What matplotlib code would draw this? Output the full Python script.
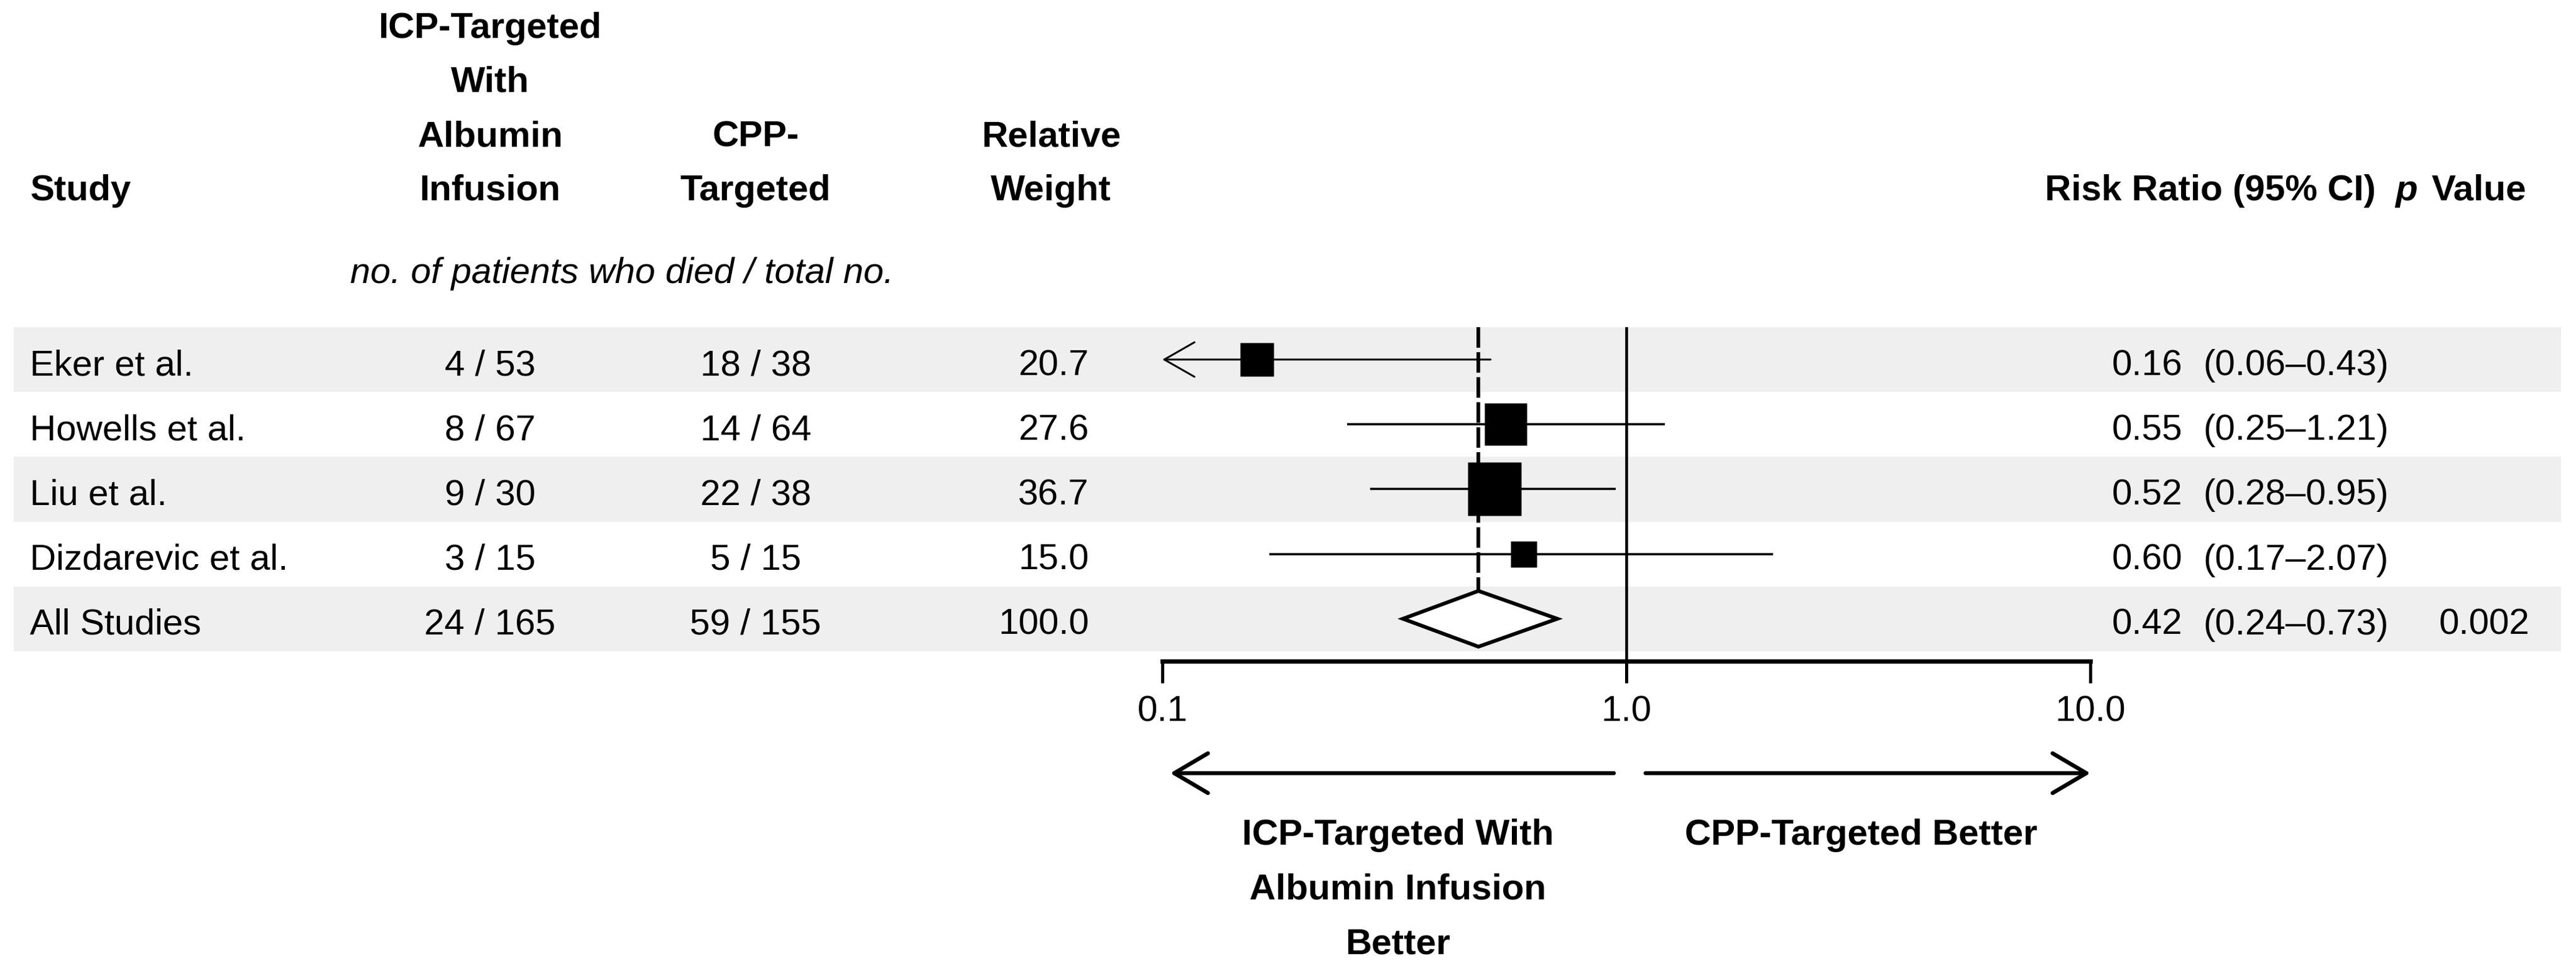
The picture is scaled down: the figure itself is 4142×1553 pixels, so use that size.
import matplotlib
matplotlib.use('Agg')
import matplotlib.pyplot as plt
import matplotlib.transforms as mtransforms
from matplotlib.patches import Polygon

########### Data
studies = ['Eker et al.', 'Howells et al.', 'Liu et al.', 'Dizdarevic et al.', 'All Studies']
icp_died = [4, 8, 9, 3, 24]
icp_total = [53, 67, 30, 15, 165]
cpp_died = [18, 14, 22, 5, 59]
cpp_total = [38, 64, 38, 15, 155]
rel_weight = [20.7, 27.6, 36.7, 15.0, 100.0]
rr_labels = ['0.16', '0.55', '0.52', '0.60', '0.42']
ci_labels = ['(0.06\u20130.43)', '(0.25\u20131.21)', '(0.28\u20130.95)', '(0.17\u20132.07)', '(0.24\u20130.73)']
p_labels = ['', '', '', '', '0.002']
# risk ratios as drawn in the figure (last entry = pooled diamond)
rr_est = [0.16, 0.55, 0.52, 0.60, 0.48]
rr_low = [0.06, 0.25, 0.28, 0.17, 0.33]
rr_high = [0.51, 1.21, 0.95, 2.07, 0.71]
x_ticks = [0.1, 1.0, 10.0]
x_tick_labels = ['0.1', '1.0', '10.0']

########### Settings
W, H = 4142, 1553
FONT = ['Liberation Sans', 'DejaVu Sans']
FS = 42
ROW0 = 578          # pixel centre of first row
ROW_H = 104.2       # pixel height of one row
BAND_LEFT, BAND_RIGHT = 22, 4118
AX_LEFT, AX_RIGHT = 1869, 3361   # pixel x of 0.1 and 10
AX_BOTTOM = 1063                 # pixel y of the axis line
PX = 72.0 / 100                  # pixel -> points

plt.rcParams['font.family'] = FONT

fig = plt.figure(figsize=(W / 100, H / 100), dpi=100)
tab = fig.add_axes([0, 0, 1, 1])
tab.set_xlim(0, W)
tab.set_ylim(H, 0)
tab.axis('off')

def row_y(i):
    return ROW0 + ROW_H * i

# shaded bands on every other row
for i in range(0, len(studies), 2):
    tab.axhspan(row_y(i) - ROW_H / 2, row_y(i) + ROW_H / 2,
                xmin=BAND_LEFT / W, xmax=BAND_RIGHT / W, color='#efefef', lw=0)

# column headers (bold, bottom aligned)
headers = [(48, 'left', ['Study']),
           (788, 'center', ['ICP-Targeted', 'With', 'Albumin', 'Infusion']),
           (1215, 'center', ['CPP-', 'Targeted']),
           (1690, 'center', ['Relative', 'Weight'])]
for x, ha, lines in headers:
    for k, line in enumerate(lines):
        y = 322 - 87 * (len(lines) - 1 - k)
        tab.text(x, y, line, ha=ha, va='baseline', fontsize=FS, fontweight='bold')

tab.text(3820, 322, 'Risk Ratio (95% CI)', ha='right', va='baseline', fontsize=FS, fontweight='bold')
tab.text(3851, 322, 'p', ha='left', va='baseline', fontsize=FS, fontweight='bold', style='italic')
tab.text(3910, 322, 'Value', ha='left', va='baseline', fontsize=FS, fontweight='bold')
tab.text(1000, 455, 'no. of patients who died / total no.', ha='center', va='baseline',
         fontsize=FS, style='italic')

# table rows
for i, name in enumerate(studies):
    yb = row_y(i) + 25
    tab.text(48, yb, name, ha='left', va='baseline', fontsize=FS)
    tab.text(788, yb, f'{icp_died[i]} / {icp_total[i]}', ha='center', va='baseline', fontsize=FS)
    tab.text(1215, yb, f'{cpp_died[i]} / {cpp_total[i]}', ha='center', va='baseline', fontsize=FS)
    tab.text(1751, yb, f'{rel_weight[i]:.1f}', ha='right', va='baseline', fontsize=FS)
    tab.text(3509, yb, rr_labels[i], ha='right', va='baseline', fontsize=FS)
    tab.text(3542, yb, ci_labels[i], ha='left', va='baseline', fontsize=FS)
    if p_labels[i]:
        tab.text(4067, yb, p_labels[i], ha='right', va='baseline', fontsize=FS)

# forest plot axes
top_pix = ROW0 - ROW_H / 2
fx = fig.add_axes([AX_LEFT / W, (H - AX_BOTTOM) / H,
                   (AX_RIGHT - AX_LEFT) / W, (AX_BOTTOM - top_pix) / H])
fx.patch.set_visible(False)
fx.set_xscale('log')
fx.set_xlim(0.1, 10)
fx.set_ylim(-0.5 + (AX_BOTTOM - top_pix) / ROW_H, -0.5)
for s in ['top', 'left', 'right']:
    fx.spines[s].set_visible(False)
fx.spines['bottom'].set_linewidth(7 * PX)
fx.set_yticks([])
fx.set_xticks(x_ticks)
fx.set_xticklabels(x_tick_labels, fontsize=FS)
fx.xaxis.set_minor_locator(matplotlib.ticker.NullLocator())
fx.tick_params(axis='x', direction='out', length=35 * PX, width=5 * PX, pad=14)

# line of no effect
fx.axvline(1.0, color='black', lw=4.5 * PX)

n_studies = len(studies) - 1
xmin = fx.get_xlim()[0]
for i in range(n_studies):
    if rr_low[i] < xmin:
        # lower limit off the scale: draw open arrow to the axis edge
        fx.annotate('', xy=(xmin, i), xytext=(rr_high[i], i),
                    arrowprops=dict(arrowstyle='->,head_length=1.75,head_width=1.0',
                                    lw=3 * PX, color='black', shrinkA=0, shrinkB=0,
                                    mutation_scale=20),
                    annotation_clip=False)
    else:
        fx.plot([rr_low[i], rr_high[i]], [i, i], color='black', lw=3.5 * PX, solid_capstyle='butt')
    side = (2.0 * rel_weight[i] + 13) * PX
    fx.plot(rr_est[i], i, marker='s', markersize=side, color='black', mec='none', zorder=3)

# pooled estimate
k = n_studies
half = 0.43
diamond = Polygon([(rr_low[k], k), (rr_est[k], k - half), (rr_high[k], k), (rr_est[k], k + half)],
                  closed=True, facecolor='white', edgecolor='black', lw=6 * PX, joinstyle='miter', zorder=4)
fx.add_patch(diamond)
fx.plot([rr_est[k], rr_est[k]], [-0.5, k - half], color='black', lw=6 * PX,
        linestyle=(0, (5.5, 1.2)), zorder=2)

# direction arrows under the axis
trans = mtransforms.blended_transform_factory(fx.transData, fig.transFigure)
y_arr = (H - 1243) / H
arrow_style = dict(arrowstyle='->,head_length=1.95,head_width=1.15', lw=6.5 * PX,
                   color='black', shrinkA=0, shrinkB=0, mutation_scale=20)
fx.annotate('', xy=(0.104, y_arr), xytext=(0.94, y_arr), xycoords=trans, textcoords=trans,
            arrowprops=arrow_style, annotation_clip=False)
fx.annotate('', xy=(10.0, y_arr), xytext=(1.10, y_arr), xycoords=trans, textcoords=trans,
            arrowprops=arrow_style, annotation_clip=False)

for k2, line in enumerate(['ICP-Targeted With', 'Albumin Infusion', 'Better']):
    tab.text(2248, 1358 + 88 * k2, line, ha='center', va='baseline', fontsize=FS, fontweight='bold')
tab.text(2992, 1358, 'CPP-Targeted Better', ha='center', va='baseline', fontsize=FS, fontweight='bold')

fig.savefig('out.png', dpi=100, facecolor='white')
